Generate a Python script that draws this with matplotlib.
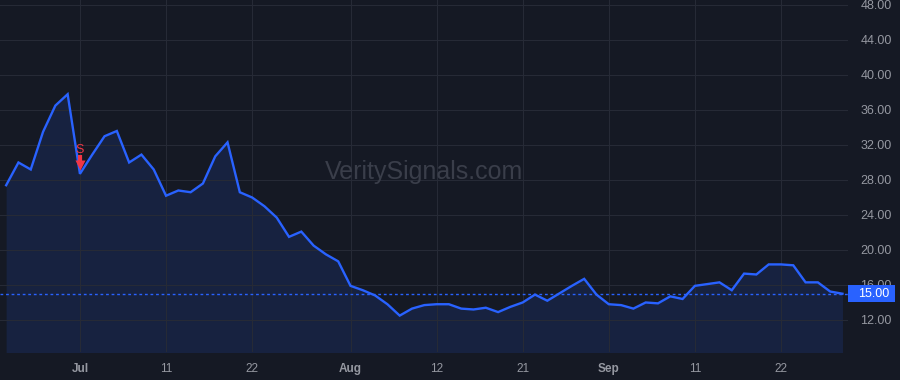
import numpy as np
import pandas as pd
import matplotlib
matplotlib.use("Agg")
import matplotlib.pyplot as plt
import matplotlib.transforms as mtransforms
from matplotlib.patches import Rectangle

# trading days Jun 23 - Sep 29 2025 (Jul 4 and Labor Day closed)
dates = pd.bdate_range("2025-06-23", "2025-09-29", freq="C",
                       holidays=["2025-07-04", "2025-09-01"])

values = [27.4, 30.0, 29.2, 33.5, 36.5, 37.8, 28.7, 30.9, 33.0, 33.6,
          30.0, 30.9, 29.2, 26.2, 26.8, 26.6, 27.6, 30.7, 32.3, 26.6,
          26.0, 25.0, 23.7, 21.5, 22.1, 20.5, 19.5, 18.7, 15.9, 15.4,
          14.8, 13.8, 12.5, 13.3, 13.7, 13.8, 13.8, 13.3, 13.2, 13.4,
          12.9, 13.5, 14.0, 14.9, 14.2, 15.05, 15.9, 16.7, 14.9, 13.8,
          13.7, 13.3, 14.0, 13.9, 14.7, 14.4, 15.9, 16.1, 16.3, 15.4,
          17.3, 17.2, 18.35, 18.35, 18.25, 16.3, 16.3, 15.25, 15.0]

tick_dates = ["2025-07-01", "2025-07-11", "2025-07-22", "2025-08-01", "2025-08-12",
              "2025-08-21", "2025-09-02", "2025-09-11", "2025-09-22"]
tick_labels = ["Jul", "11", "22", "Aug", "12", "21", "Sep", "11", "22"]
y_ticks = [12, 16, 20, 24, 28, 32, 36, 40, 44, 48]

signal_date = "2025-07-01"
signal_text = "S"

bg = "#151924"
grid = "#262a36"
blue = "#2962ff"
red = "#f23645"

x = np.arange(len(dates))
last = values[-1]

fig = plt.figure(figsize=(9, 3.8), dpi=100, facecolor=bg)
ax = fig.add_axes([0, 28 / 380, 848 / 900, 352 / 380])
ax.set_facecolor(bg)

ax.fill_between(x, values, 0, color=blue, alpha=0.13, lw=0)
ax.plot(x, values, color=blue, lw=1.7, solid_joinstyle="miter")
ax.axhline(last, color=blue, lw=1, ls=(0, (2, 2)))

ax.set_xlim(-0.5, 68.45)
ax.set_ylim(8.34, 48.57)

tick_pos = [dates.get_loc(pd.Timestamp(d)) for d in tick_dates]
ax.set_xticks(tick_pos)
ax.set_xticklabels(tick_labels)
for lbl in ax.get_xticklabels():
    if lbl.get_text() in ("Jul", "Aug", "Sep"):
        lbl.set_fontweight("bold")
ax.set_yticks(y_ticks)
ax.set_yticklabels(["%.2f" % v for v in y_ticks])
ax.yaxis.tick_right()
ax.tick_params(axis="y", length=0, pad=9, labelsize=9, colors="#9598a1")
ax.tick_params(axis="x", length=0, pad=8, labelsize=8.5, colors="#9598a1")
for lbl in ax.get_xticklabels() + ax.get_yticklabels():
    lbl.set_family("Liberation Sans")
ax.grid(True, color=grid, lw=0.8)
for s in ax.spines.values():
    s.set_visible(False)

# watermark
ax.text(0.5, 0.51, "VeritySignals.com", transform=ax.transAxes, ha="center",
        va="center", fontsize=18, color="#3a3e4a", family="Liberation Sans")

# sell signal: short shaft + down triangle
si = dates.get_loc(pd.Timestamp(signal_date))
sv = values[si]
ax.plot([si, si], [sv + 2.15, sv + 1.2], color=red, lw=3, solid_capstyle="butt", zorder=4)
ax.plot(si, sv + 1.0, marker="v", ms=7, color=red, mec="none", zorder=4)
ax.text(si, sv + 2.7, signal_text, color=red, fontsize=9,
        ha="center", va="center", family="Liberation Sans")

# last price label
trans = mtransforms.blended_transform_factory(ax.transAxes, ax.transData)
ax.add_patch(Rectangle((1.0, last - 0.97), 0.056, 1.94, transform=trans,
                       facecolor=blue, edgecolor="none", clip_on=False, zorder=5))
ax.text(1.0 + 10 / 848, last, "%.2f" % last, transform=trans, ha="left", va="center",
        fontsize=9, color="white", family="Liberation Sans", clip_on=False, zorder=6)

fig.savefig("out.png", dpi=100, facecolor=bg)
